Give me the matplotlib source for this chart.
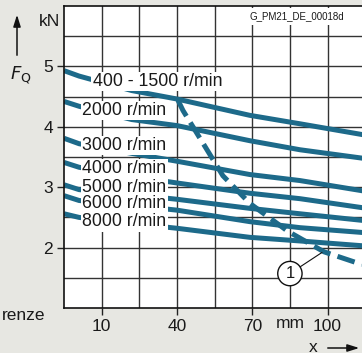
import matplotlib
matplotlib.use("Agg")
import matplotlib.pyplot as plt
from matplotlib.patches import Rectangle, FancyArrowPatch

plt.rcParams['font.family'] = ['Liberation Sans', 'DejaVu Sans']

# Permissible radial force F_Q versus force application point x
speed_labels = ["400 - 1500 r/min", "2000 r/min", "3000 r/min", "4000 r/min",
                "5000 r/min", "6000 r/min", "8000 r/min"]
distance_mm = [-5, 1, 22, 40, 69, 89, 114]
force_kn = [
    [4.93, 4.84, 4.60, 4.46, 4.19, 4.05, 3.87],
    [4.42, 4.34, 4.12, 4.02, 3.77, 3.62, 3.48],
    [3.81, 3.72, 3.56, 3.43, 3.21, 3.11, 2.94],
    [3.41, 3.33, 3.18, 3.07, 2.90, 2.81, 2.66],
    [3.04, 2.96, 2.88, 2.80, 2.65, 2.56, 2.45],
    [2.86, 2.78, 2.70, 2.62, 2.43, 2.33, 2.25],
    [2.56, 2.50, 2.40, 2.32, 2.17, 2.11, 2.03],
]
# Limit curve (1)
limit_x = [40.4, 42.4, 58.3, 69.1, 84.2, 98.6, 113.7]
limit_f = [4.44, 4.27, 3.19, 2.73, 2.27, 1.93, 1.72]

x_ticks = [10, 40, 70, 100]
y_ticks = [2, 3, 4, 5]
x_grid = [-5 + 15 * i for i in range(1, 9)]
y_grid = [1 + 0.5 * i for i in range(1, 10)]

# label anchors (left edge, vertical centre) in data units
label_x = [6.5, 2.2, 2.2, 2.2, 2.2, 2.2, 2.2]
label_y = [4.75, 4.27, 3.69, 3.31, 2.99, 2.73, 2.43]

curve_color = '#1d6a8a'
grid_color = '#333333'
text_color = '#1a1a1a'
bg = '#e7e7e2'

W, H = 362, 353
fig = plt.figure(figsize=(W / 100, H / 100), dpi=100, facecolor=bg)
px_per_mm = 2.51
left_px, bottom_px, top_px = 64, 308, 6
ax = fig.add_axes([left_px / W, (H - bottom_px) / H,
                   120 * px_per_mm / W, (bottom_px - top_px) / H])
ax.set_facecolor('white')
ax.set_xlim(-5, 115)
ax.set_ylim(1, 6)

# grid
for gx in x_grid:
    ax.axvline(gx, color=grid_color, lw=1.0, zorder=0.5)
for gy in y_grid:
    ax.axhline(gy, color=grid_color, lw=1.0, zorder=0.5)

ax.set_xticks(x_ticks)
ax.set_xticklabels([str(v) for v in x_ticks])
ax.set_yticks(y_ticks)
ax.set_yticklabels([str(v) for v in y_ticks])
ax.tick_params(length=5, width=1, color='#222222', pad=3,
               labelsize=12.5, labelcolor=text_color)
for s in ['left', 'bottom', 'top']:
    ax.spines[s].set_color('#111111')
    ax.spines[s].set_linewidth(1.2)
ax.spines['right'].set_visible(False)

for fy in force_kn:
    ax.plot(distance_mm, fy, color=curve_color, lw=3.6, solid_capstyle='butt',
            zorder=2)

ax.plot(limit_x, limit_f, color=curve_color, lw=3.6, dashes=(3.6, 1.5),
        dash_capstyle='butt', zorder=2)

for txt, lx, ly in zip(speed_labels, label_x, label_y):
    ax.text(lx, ly, txt, fontsize=12.8, color=text_color, ha='left', va='center',
            zorder=4, bbox=dict(boxstyle='square,pad=0.08', fc='white', ec='none'))

# marker (1) with leader line
ax.annotate('1', xy=(97.8, 1.92), xytext=(85, 1.57), fontsize=12, ha='center',
            va='center', zorder=5, color=text_color,
            bbox=dict(boxstyle='circle,pad=0.28', fc='white', ec='#111111', lw=1),
            arrowprops=dict(arrowstyle='-', color='#111111', lw=0.8,
                            shrinkA=0, shrinkB=0))

# drawing id box
fig.patches.append(Rectangle((240 / W, (H - 25) / H), 130 / W, 17 / H,
                             transform=fig.transFigure, fc='white', ec='none',
                             zorder=5))
fig.text(250 / W, (H - 16) / H, 'G_PM21_DE_00018d', fontsize=7, ha='left',
         va='center', color=text_color, zorder=6)

# axis annotations
fig.text(60 / W, (H - 22) / H, 'kN', fontsize=12.5, ha='right', va='center',
         color=text_color)
fig.text(10 / W, (H - 75) / H, r'$F_\mathrm{Q}$', fontsize=13, ha='left',
         va='center', color=text_color)
fig.add_artist(FancyArrowPatch(
    (17 / W, (H - 58) / H), (17 / W, (H - 12) / H), transform=fig.transFigure,
    arrowstyle='-|>,head_length=7,head_width=2.2', color='#111111', lw=1.1))
ax.text(85, 1 - 8 / 60.4, 'mm', fontsize=12.5, ha='center', va='top',
        color=text_color)
fig.text(313 / W, (H - 347) / H, 'x', fontsize=12.5, ha='center', va='center',
         color=text_color)
fig.add_artist(FancyArrowPatch(
    (325 / W, (H - 348) / H), (362 / W, (H - 348) / H), transform=fig.transFigure,
    arrowstyle='-|>,head_length=7,head_width=2.2', color='#111111', lw=1.1))
fig.text(2 / W, (H - 315) / H, 'renze', fontsize=12.5, ha='left', va='center',
         color=text_color)

fig.savefig('out.png', dpi=100, facecolor=bg)
